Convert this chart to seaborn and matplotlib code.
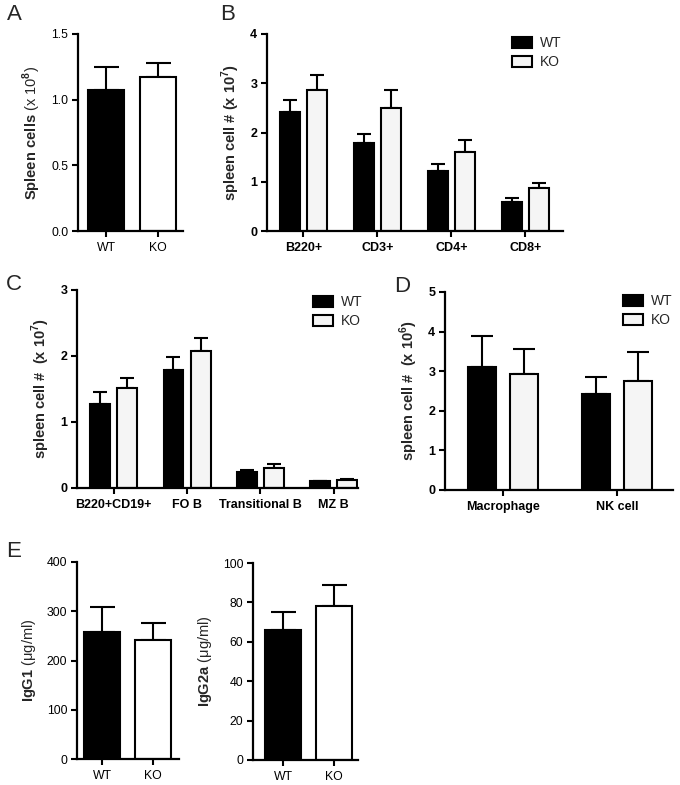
import matplotlib
matplotlib.use("Agg")
import numpy as np
import pandas as pd
import seaborn as sns
from matplotlib import patches, pyplot as plt

# ---------------------------------------------------
groups = ["WT", "KO"]

a_vals = [1.07, 1.17]
a_errs = [0.18, 0.11]

b_cats = ["B220+", "CD3+", "CD4+", "CD8+"]
b_wt = [2.41, 1.78, 1.22, 0.59]
b_ko = [2.86, 2.50, 1.60, 0.87]
b_wt_err = [0.26, 0.18, 0.15, 0.07]
b_ko_err = [0.31, 0.37, 0.25, 0.11]

c_cats = ["B220+CD19+", "FO B", "Transitional B", "MZ B"]
c_wt = [1.28, 1.79, 0.24, 0.10]
c_ko = [1.51, 2.07, 0.31, 0.12]
c_wt_err = [0.17, 0.20, 0.04, 0.01]
c_ko_err = [0.15, 0.20, 0.05, 0.01]

d_cats = ["Macrophage", "NK cell"]
d_wt = [3.10, 2.42]
d_ko = [2.93, 2.75]
d_wt_err = [0.80, 0.44]
d_ko_err = [0.62, 0.74]

igg1_vals = [257, 241]
igg1_errs = [51, 36]
igg2a_vals = [66, 78]
igg2a_errs = [9, 11]

KO_LIGHT = "#f5f5f5"

sns.set_style("ticks")
plt.rcParams["font.family"] = ["Liberation Sans", "DejaVu Sans"]
plt.rcParams["mathtext.fontset"] = "custom"
plt.rcParams["mathtext.rm"] = "Liberation Sans"
plt.rcParams["mathtext.bf"] = "Liberation Sans:bold"

W, H = 680, 785
fig = plt.figure(figsize=(W / 100, H / 100), dpi=100)


def axes_px(left, right, top, bottom):
    return fig.add_axes([left / W, 1 - bottom / H, (right - left) / W, (bottom - top) / H])


def style_axes(ax, bold):
    sns.despine(ax=ax)
    for side in ["left", "bottom"]:
        ax.spines[side].set_linewidth(1.6)
        ax.spines[side].set_color("black")
    ax.tick_params(axis="both", direction="out", length=4, width=1.5,
                   labelsize=9 if bold else 8.8, colors="black", pad=3)
    ax.tick_params(axis="x", pad=4)
    weight = "bold" if bold else "normal"
    for lab in ax.get_xticklabels() + ax.get_yticklabels():
        lab.set_fontweight(weight)
    ax.set_xlabel("")


def add_errors(ax, errs, capsize):
    bars = [p for p in ax.patches if isinstance(p, patches.Rectangle)]
    for bar, err in zip(bars, errs):
        xc = bar.get_x() + bar.get_width() / 2
        h = bar.get_height()
        ax.errorbar(xc, h, yerr=[[0], [err]], fmt="none", ecolor="black",
                    elinewidth=1.5, capsize=capsize, capthick=1.5, zorder=1)


def simple_panel(ax, vals, errs, ko_color, capsize):
    df = pd.DataFrame({"group": groups, "value": vals})
    sns.barplot(data=df, x="group", y="value", hue="group",
                palette=["black", ko_color], width=0.7, errorbar=None,
                edgecolor="black", linewidth=1.5, legend=False, ax=ax, zorder=2)
    add_errors(ax, errs, capsize)


def grouped_panel(ax, cats, wt, ko, wt_err, ko_err, gap, capsize):
    df = pd.DataFrame({
        "cat": cats * 2,
        "group": ["WT"] * len(cats) + ["KO"] * len(cats),
        "value": wt + ko,
    })
    sns.barplot(data=df, x="cat", y="value", hue="group", hue_order=groups,
                palette=["black", KO_LIGHT], width=0.74, gap=gap, errorbar=None,
                edgecolor="black", linewidth=1.5, legend=False, ax=ax, zorder=2)
    add_errors(ax, wt_err + ko_err, capsize)


def legend_px(x, y):
    handles = [patches.Patch(facecolor="black", edgecolor="black", linewidth=1.5, label="WT"),
               patches.Patch(facecolor=KO_LIGHT, edgecolor="black", linewidth=1.5, label="KO")]
    fig.legend(handles=handles, loc="upper left", bbox_to_anchor=(x / W, 1 - y / H),
               frameon=False, fontsize=10, handlelength=1.45, handleheight=0.85,
               handletextpad=0.55, labelspacing=0.35, borderpad=0, borderaxespad=0)


# ---------------------------------------------------
# A
ax_a = axes_px(78, 183, 34, 231)
simple_panel(ax_a, a_vals, a_errs, "white", 9)
ax_a.set_xlim(-0.54, 1.48)
ax_a.set_ylim(0, 1.5)
ax_a.set_yticks([0, 0.5, 1.0, 1.5])
ax_a.set_yticklabels(["0.0", "0.5", "1.0", "1.5"])
ax_a.set_ylabel(r"$\mathbf{Spleen\ cells}$ (x 10$^{\mathbf{8}}$)", fontsize=10.5, labelpad=6)
style_axes(ax_a, bold=False)

# B
ax_b = axes_px(267, 563, 34, 231)
grouped_panel(ax_b, b_cats, b_wt, b_ko, b_wt_err, b_ko_err, 0.27, 5)
ax_b.set_xlim(-0.49, 3.51)
ax_b.set_ylim(0, 4)
ax_b.set_yticks([0, 1, 2, 3, 4])
ax_b.set_ylabel(r"spleen cell # (x 10$^{\mathbf{7}}$)", fontsize=10.5, fontweight="bold", labelpad=6)
style_axes(ax_b, bold=True)
legend_px(512, 36)

# C
ax_c = axes_px(77, 358, 290, 488)
grouped_panel(ax_c, c_cats, c_wt, c_ko, c_wt_err, c_ko_err, 0.27, 5)
ax_c.set_xlim(-0.50, 3.33)
ax_c.set_ylim(0, 3)
ax_c.set_yticks([0, 1, 2, 3])
ax_c.set_ylabel(r"spleen cell #  (x 10$^{\mathbf{7}}$)", fontsize=10.5, fontweight="bold", labelpad=6)
style_axes(ax_c, bold=True)
legend_px(313, 295)

# D
ax_d = axes_px(445, 673, 292, 490)
grouped_panel(ax_d, d_cats, d_wt, d_ko, d_wt_err, d_ko_err, 0.34, 8)
ax_d.set_xlim(-0.51, 1.49)
ax_d.set_ylim(0, 5)
ax_d.set_yticks([0, 1, 2, 3, 4, 5])
ax_d.set_ylabel(r"spleen cell #  (x 10$^{\mathbf{6}}$)", fontsize=10.5, fontweight="bold", labelpad=6)
style_axes(ax_d, bold=True)
legend_px(623, 294)

# E
ax_e1 = axes_px(77, 179, 562, 759)
simple_panel(ax_e1, igg1_vals, igg1_errs, "white", 9)
ax_e1.set_xlim(-0.49, 1.51)
ax_e1.set_ylim(0, 400)
ax_e1.set_yticks([0, 100, 200, 300, 400])
ax_e1.set_ylabel(r"$\mathbf{IgG1}$ ($\mathrm{\mu}$g/ml)", fontsize=10.5, labelpad=6)
style_axes(ax_e1, bold=False)

ax_e2 = axes_px(253, 358, 563, 760)
simple_panel(ax_e2, igg2a_vals, igg2a_errs, "white", 9)
ax_e2.set_xlim(-0.59, 1.47)
ax_e2.set_ylim(0, 100)
ax_e2.set_yticks([0, 20, 40, 60, 80, 100])
ax_e2.set_ylabel(r"$\mathbf{IgG2a}$ ($\mathrm{\mu}$g/ml)", fontsize=10.5, labelpad=6)
style_axes(ax_e2, bold=False)

# panel letters
for letter, x, y in [("A", 7, 4), ("B", 220, 4), ("C", 6, 274), ("D", 394, 276), ("E", 6, 541)]:
    fig.text(x / W, 1 - y / H, letter, fontsize=16, va="top", ha="left")

fig.savefig("out.png", dpi=100)
